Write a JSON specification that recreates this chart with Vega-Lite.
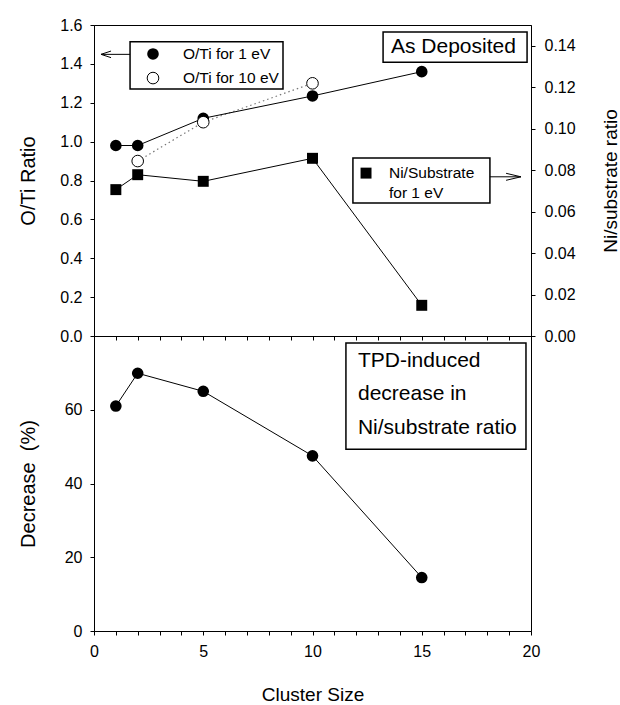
{
  "$schema": "https://vega.github.io/schema/vega-lite/v6.json",
  "padding": {"left": 17, "top": 16, "right": 0, "bottom": 0},
  "background": "white",
  "spacing": 0,
  "bounds": "flush",
  "config": {
    "font": "Liberation Sans",
    "view": {"stroke": "black", "strokeWidth": 1},
    "axis": {
      "grid": false,
      "domainColor": "black",
      "tickColor": "black",
      "tickSize": 4,
      "labelFontSize": 16,
      "labelColor": "black",
      "labelFont": "Liberation Sans",
      "labelOverlap": false,
      "labelFlush": false,
      "titleFont": "Liberation Sans",
      "titleColor": "black",
      "titleFontWeight": "normal",
      "titleFontSize": 20
    }
  },
  "datasets": {
    "oti": [
      {"size": 1, "energy": "1 eV", "ratio": 0.98},
      {"size": 2, "energy": "1 eV", "ratio": 0.98},
      {"size": 5, "energy": "1 eV", "ratio": 1.12},
      {"size": 10, "energy": "1 eV", "ratio": 1.235},
      {"size": 15, "energy": "1 eV", "ratio": 1.36},
      {"size": 2, "energy": "10 eV", "ratio": 0.9},
      {"size": 5, "energy": "10 eV", "ratio": 1.1},
      {"size": 10, "energy": "10 eV", "ratio": 1.3}
    ],
    "ni": [
      {"size": 1, "ni": 0.0706},
      {"size": 2, "ni": 0.0778},
      {"size": 5, "ni": 0.0746},
      {"size": 10, "ni": 0.0857},
      {"size": 15, "ni": 0.0148}
    ],
    "tpd": [
      {"size": 1, "decrease": 61.0},
      {"size": 2, "decrease": 69.9},
      {"size": 5, "decrease": 65.0},
      {"size": 10, "decrease": 47.5},
      {"size": 15, "decrease": 14.5}
    ],
    "topBoxes": [
      {"x1": 1.65, "x2": 8.65, "y1": 1.271, "y2": 1.514},
      {"x1": 13.23, "x2": 19.82, "y1": 1.409, "y2": 1.564},
      {"x1": 11.85, "x2": 18.12, "y1": 0.684, "y2": 0.916}
    ],
    "arrows": [
      {"x1": 1.65, "y1": 1.449, "x2": 0.32, "y2": 1.449},
      {"x1": 0.32, "y1": 1.449, "x2": 0.78, "y2": 1.466},
      {"x1": 0.32, "y1": 1.449, "x2": 0.78, "y2": 1.432},
      {"x1": 18.12, "y1": 0.819, "x2": 19.54, "y2": 0.819},
      {"x1": 19.54, "y1": 0.819, "x2": 18.86, "y2": 0.837},
      {"x1": 19.54, "y1": 0.819, "x2": 18.86, "y2": 0.801}
    ],
    "legendSymbols": [
      {"x": 2.7, "y": 1.451, "kind": "filled circle"},
      {"x": 2.7, "y": 1.327, "kind": "open circle"},
      {"x": 12.45, "y": 0.838, "kind": "square"}
    ],
    "legendTexts": [
      {"x": 4.07, "y": 1.451, "label": "O/Ti for 1 eV"},
      {"x": 4.07, "y": 1.327, "label": "O/Ti for 10 eV"},
      {"x": 13.5, "y": 0.84, "label": "Ni/Substrate"},
      {"x": 13.5, "y": 0.737, "label": "for 1 eV"}
    ],
    "titleTexts": [
      {"x": 13.59, "y": 1.487, "label": "As Deposited"}
    ],
    "tpdBox": [
      {"x1": 11.53, "x2": 19.77, "y1": 49.3, "y2": 78.1}
    ],
    "tpdTexts": [
      {"x": 12.08, "y": 73.2, "label": "TPD-induced"},
      {"x": 12.08, "y": 64.2, "label": "decrease in"},
      {"x": 12.08, "y": 55.0, "label": "Ni/substrate ratio"}
    ]
  },
  "vconcat": [
    {
      "width": 437,
      "height": 311,
      "resolve": {"scale": {"y": "independent"}},
      "layer": [
        {
          "layer": [
            {
              "data": {"name": "topBoxes"},
              "mark": {"type": "rect", "fill": "white", "stroke": "black", "strokeWidth": 1.5},
              "encoding": {
                "x": {"field": "x1", "type": "quantitative", "scale": {"domain": [0, 20], "nice": false}, "axis": {"title": null, "labels": false, "tickCount": 50, "values": [0,1,2,3,4,5,6,7,8,9,10,11,12,13,14,15,16,17,18,19,20]}},
                "x2": {"field": "x2"},
                "y": {"field": "y1", "type": "quantitative", "scale": {"domain": [0, 1.6], "nice": false}, "axis": {"title": "O/Ti Ratio", "tickCount": 50, "values": [0,0.2,0.4,0.6,0.8,1.0,1.2,1.4,1.6], "format": ".1f", "labelPadding": 8, "titleX": -66, "titleBaseline": "middle"}},
                "y2": {"field": "y2"}
              }
            },
            {
              "data": {"name": "arrows"},
              "mark": {"type": "rule", "color": "black", "strokeWidth": 1},
              "encoding": {
                "x": {"field": "x1", "type": "quantitative"},
                "x2": {"field": "x2"},
                "y": {"field": "y1", "type": "quantitative"},
                "y2": {"field": "y2"}
              }
            },
            {
              "data": {"name": "oti"},
              "transform": [{"filter": "datum.energy === '10 eV'"}],
              "mark": {"type": "line", "color": "#777777", "strokeWidth": 1.2, "strokeDash": [1.5, 3]},
              "encoding": {
                "x": {"field": "size", "type": "quantitative"},
                "y": {"field": "ratio", "type": "quantitative"}
              }
            },
            {
              "data": {"name": "oti"},
              "transform": [{"filter": "datum.energy === '1 eV'"}],
              "mark": {"type": "line", "color": "black", "strokeWidth": 1},
              "encoding": {
                "x": {"field": "size", "type": "quantitative"},
                "y": {"field": "ratio", "type": "quantitative"}
              }
            },
            {
              "data": {"name": "oti"},
              "transform": [{"filter": "datum.energy === '1 eV'"}],
              "mark": {"type": "point", "shape": "circle", "filled": true, "color": "black", "size": 135, "opacity": 1},
              "encoding": {
                "x": {"field": "size", "type": "quantitative"},
                "y": {"field": "ratio", "type": "quantitative"}
              }
            },
            {
              "data": {"name": "oti"},
              "transform": [{"filter": "datum.energy === '10 eV'"}],
              "mark": {"type": "point", "shape": "circle", "filled": true, "fill": "white", "stroke": "black", "strokeWidth": 1, "size": 135, "opacity": 1},
              "encoding": {
                "x": {"field": "size", "type": "quantitative"},
                "y": {"field": "ratio", "type": "quantitative"}
              }
            },
            {
              "data": {"name": "legendSymbols"},
              "transform": [{"filter": "datum.kind === 'filled circle'"}],
              "mark": {"type": "point", "shape": "circle", "filled": true, "color": "black", "size": 135, "opacity": 1},
              "encoding": {
                "x": {"field": "x", "type": "quantitative"},
                "y": {"field": "y", "type": "quantitative"}
              }
            },
            {
              "data": {"name": "legendSymbols"},
              "transform": [{"filter": "datum.kind === 'open circle'"}],
              "mark": {"type": "point", "shape": "circle", "filled": true, "fill": "white", "stroke": "black", "strokeWidth": 1, "size": 135, "opacity": 1},
              "encoding": {
                "x": {"field": "x", "type": "quantitative"},
                "y": {"field": "y", "type": "quantitative"}
              }
            },
            {
              "data": {"name": "legendSymbols"},
              "transform": [{"filter": "datum.kind === 'square'"}],
              "mark": {"type": "point", "shape": "square", "filled": true, "color": "black", "size": 120, "opacity": 1},
              "encoding": {
                "x": {"field": "x", "type": "quantitative"},
                "y": {"field": "y", "type": "quantitative"}
              }
            },
            {
              "data": {"name": "legendTexts"},
              "mark": {"type": "text", "align": "left", "baseline": "middle", "fontSize": 15.5, "color": "black"},
              "encoding": {
                "x": {"field": "x", "type": "quantitative"},
                "y": {"field": "y", "type": "quantitative"},
                "text": {"field": "label"}
              }
            },
            {
              "data": {"name": "titleTexts"},
              "mark": {"type": "text", "align": "left", "baseline": "middle", "fontSize": 21, "color": "black"},
              "encoding": {
                "x": {"field": "x", "type": "quantitative"},
                "y": {"field": "y", "type": "quantitative"},
                "text": {"field": "label"}
              }
            }
          ]
        },
        {
          "data": {"name": "ni"},
          "layer": [
            {
              "mark": {"type": "line", "color": "black", "strokeWidth": 1},
              "encoding": {
                "x": {"field": "size", "type": "quantitative"},
                "y": {"field": "ni", "type": "quantitative", "scale": {"domain": [0, 0.15], "nice": false}, "axis": {"orient": "right", "title": "Ni/substrate ratio", "tickCount": 50, "values": [0,0.02,0.04,0.06,0.08,0.1,0.12,0.14], "format": ".2f", "labelPadding": 9, "titleX": 79, "titleFontSize": 19, "titleAngle": 270, "titleBaseline": "middle"}}
              }
            },
            {
              "mark": {"type": "point", "shape": "square", "filled": true, "color": "black", "size": 120, "opacity": 1},
              "encoding": {
                "x": {"field": "size", "type": "quantitative"},
                "y": {"field": "ni", "type": "quantitative"}
              }
            }
          ]
        }
      ]
    },
    {
      "width": 437,
      "height": 295,
      "layer": [
        {
          "data": {"name": "tpdBox"},
          "mark": {"type": "rect", "fill": "white", "stroke": "black", "strokeWidth": 1.5},
          "encoding": {
            "x": {"field": "x1", "type": "quantitative", "scale": {"domain": [0, 20], "nice": false}, "axis": {"title": "Cluster Size", "tickCount": 50, "format": "d", "values": [0,1,2,3,4,5,6,7,8,9,10,11,12,13,14,15,16,17,18,19,20], "labelExpr": "datum.value % 5 === 0 ? datum.label : ''", "labelPadding": 8, "titleFontSize": 19, "titleY": 63, "titleBaseline": "middle"}},
            "x2": {"field": "x2"},
            "y": {"field": "y1", "type": "quantitative", "scale": {"domain": [0, 80], "nice": false}, "axis": {"title": "Decrease\u00a0\u00a0(%)", "tickCount": 50, "format": "d", "values": [0, 20, 40, 60], "labelPadding": 8, "titleX": -66, "titleBaseline": "middle"}},
            "y2": {"field": "y2"}
          }
        },
        {
          "data": {"name": "tpdTexts"},
          "mark": {"type": "text", "align": "left", "baseline": "middle", "fontSize": 21, "color": "black"},
          "encoding": {
            "x": {"field": "x", "type": "quantitative"},
            "y": {"field": "y", "type": "quantitative"},
            "text": {"field": "label"}
          }
        },
        {
          "data": {"name": "tpd"},
          "mark": {"type": "line", "color": "black", "strokeWidth": 1},
          "encoding": {
            "x": {"field": "size", "type": "quantitative"},
            "y": {"field": "decrease", "type": "quantitative"}
          }
        },
        {
          "data": {"name": "tpd"},
          "mark": {"type": "point", "shape": "circle", "filled": true, "color": "black", "size": 135, "opacity": 1},
          "encoding": {
            "x": {"field": "size", "type": "quantitative"},
            "y": {"field": "decrease", "type": "quantitative"}
          }
        }
      ]
    }
  ]
}
